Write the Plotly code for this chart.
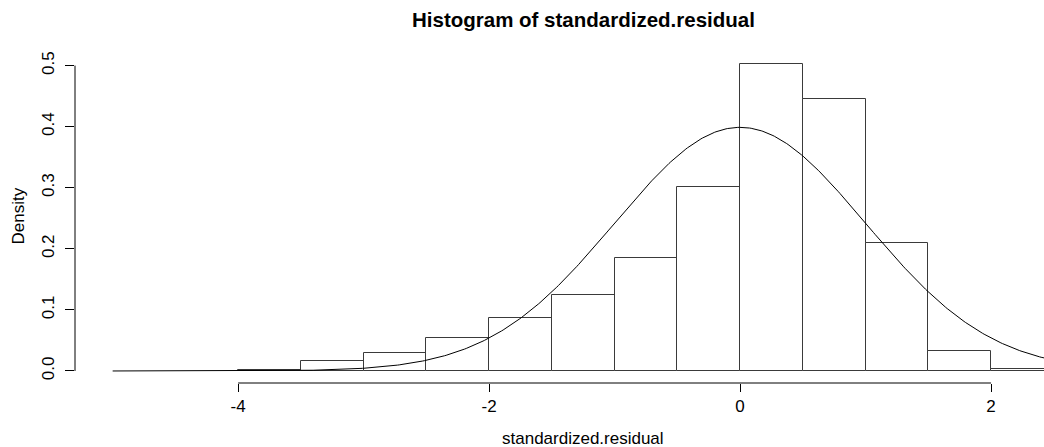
import numpy as np
import plotly.graph_objects as go

# Histogram bins (break points) and bar densities
breaks = [-4.0, -3.5, -3.0, -2.5, -2.0, -1.5, -1.0, -0.5, 0.0, 0.5, 1.0, 1.5, 2.0, 2.5]
density = [0.002, 0.016, 0.029, 0.054, 0.086, 0.125, 0.185, 0.302, 0.503, 0.445, 0.209, 0.033, 0.003]

# Overlaid normal density curve parameters
norm_mean = 0.0
norm_sd = 1.0
curve_from, curve_to = -5.0, 3.0

x_ticks = [-4, -2, 0, 2]
y_ticks = [0.0, 0.1, 0.2, 0.3, 0.4, 0.5]

title_text = "Histogram of standardized.residual"
x_label = "standardized.residual"
y_label = "Density"

FONT = "Liberation Sans, Arial, Helvetica, sans-serif"

edges = np.array(breaks)
mids = (edges[:-1] + edges[1:]) / 2
widths = np.diff(edges)

xs = np.linspace(curve_from, curve_to, 600)
ys = np.exp(-0.5 * ((xs - norm_mean) / norm_sd) ** 2) / (norm_sd * np.sqrt(2 * np.pi))

fig = go.Figure()
fig.add_trace(go.Bar(
    x=mids, y=density, width=widths,
    marker=dict(color="white", line=dict(color="#3a3a3a", width=1)),
    hoverinfo="skip", showlegend=False,
))
fig.add_trace(go.Scatter(
    x=xs, y=ys, mode="lines",
    line=dict(color="black", width=1),
    hoverinfo="skip", showlegend=False,
))

# R-style axis lines spanning only first to last tick
fig.add_shape(type="line", xref="x", yref="paper", x0=x_ticks[0], x1=x_ticks[-1], y0=0, y1=0,
              line=dict(color="black", width=1))
fig.add_shape(type="line", xref="paper", yref="y", x0=0, x1=0, y0=y_ticks[0], y1=y_ticks[-1],
              line=dict(color="black", width=1))

fig.add_annotation(text="<b>" + title_text + "</b>", xref="paper", yref="paper",
                   x=(583.3 - 75) / 969, y=1 + 33 / 331, xanchor="center", yanchor="middle",
                   showarrow=False, font=dict(family=FONT, size=20.5, color="black"))
fig.add_annotation(text=x_label, xref="paper", yref="paper",
                   x=(582.5 - 75) / 969, y=-55 / 331, xanchor="center", yanchor="middle",
                   showarrow=False, font=dict(family=FONT, size=17, color="black"))
fig.add_annotation(text=y_label, xref="paper", yref="paper", textangle=-90,
                   x=(19 - 75) / 969, y=0.503, xanchor="center", yanchor="middle",
                   showarrow=False, font=dict(family=FONT, size=17, color="black"))

fig.update_layout(
    width=1044, height=447,
    margin=dict(l=75, r=0, t=52, b=64, pad=0),
    paper_bgcolor="white", plot_bgcolor="white",
    bargap=0,
    font=dict(family=FONT, size=17, color="black"),
    xaxis=dict(range=[-5.3, 2.422], tickvals=x_ticks, ticktext=[str(v) for v in x_ticks],
               ticks="outside", ticklen=8, tickwidth=1, tickcolor="black",
               showgrid=False, zeroline=False, showline=False,
               tickfont=dict(family=FONT, size=17, color="black")),
    yaxis=dict(range=[-0.0197, 0.5223], tickvals=y_ticks, tickformat=".1f",
               ticks="outside", ticklen=9, tickwidth=1, tickcolor="black", tickangle=-90,
               ticklabelstandoff=4,
               showgrid=False, zeroline=False, showline=False,
               tickfont=dict(family=FONT, size=17, color="black")),
)

fig.write_html("out.html")
